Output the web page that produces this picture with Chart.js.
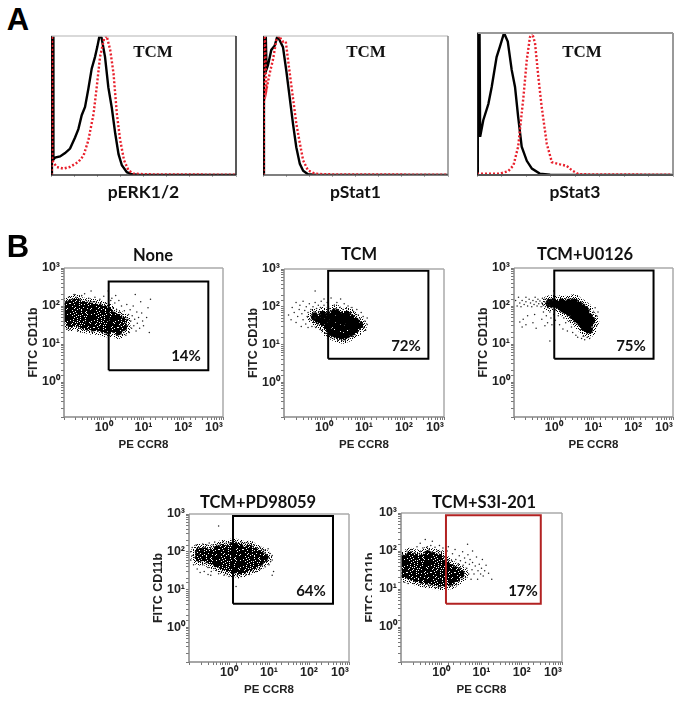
<!DOCTYPE html>
<html>
<head>
<meta charset="utf-8">
<style>
html, body { margin: 0; padding: 0; background: #fff; width: 681px; height: 703px; overflow: hidden; }
canvas { position: absolute; }
.txt { position: absolute; transform: translate(-50%, -50%); white-space: nowrap; color: #111; }
.big { font: bold 31px "Liberation Sans"; color: #000; }
.head { font: bold 16.5px Lato; }
.pct { font: bold 15px Lato; }
.tcm { font: bold 17px "Liberation Serif"; }
#mask { position: absolute; left: 372px; top: 545px; width: 4px; height: 85px; background: #fff; }
</style>
</head>
<body>
<script src="https://cdn.jsdelivr.net/npm/chart.js@4"></script>
<script>
// histograms, x = % of channel range, y = % of peak
let erkBlack = [[0.4,0],[0.5,100],[1.1,100],[1.3,11],[2.2,12.5],[4.9,13.4],[7.6,15.8],[10.3,19],[13,27],[14.8,33],[16.6,43],[18.4,49],[20.2,62],[22,76.5],[23.8,85],[25,92],[26.2,100],[27.3,99],[29.2,85],[31,63],[32.9,48],[34.7,30],[36.5,15],[38.3,7],[41,2],[43.7,0.5],[48,0],[100,0]];
let erkRed = [[0.3,0],[0.4,100],[0.6,100],[0.7,10.5],[3,5.8],[6.6,4.6],[10.3,5.8],[14.8,9.4],[17.6,14],[20.2,25],[23,44],[24.7,63],[26.5,85],[28.7,98],[30.1,100],[32,90],[33.8,73],[35.6,44],[37.4,25],[39.5,10.5],[41.9,3.4],[44.6,1],[51.8,0.5],[100,0.2]];
let stat1Black = [[0.3,0],[0.5,100],[1.5,100],[1.9,76],[2.7,79],[4.5,90],[6.3,93],[7.8,100],[9,97],[10.8,92],[12.6,75],[14.4,56],[16.2,37],[18,20],[19.9,8],[21.7,3],[24.3,0.5],[29,0],[100,0]];
let stat1Red = [[0.3,0],[0.6,100],[1,100],[1.8,61],[3.6,73],[5.4,83],[7.2,97],[8.7,100],[10.5,96],[12.3,96],[14,78],[15.9,58.5],[18,37],[19.9,23],[21.7,10.5],[24.3,3.4],[28,1],[33.4,0.5],[100,0.2]];
let stat3Black = [[0.2,0],[0.4,100],[1.3,100],[1.6,27],[3.2,38.6],[5.8,50],[7.5,62],[10,83],[11.8,91],[13.8,100],[15.7,94],[17.7,74],[19.4,62],[21,41],[22.8,20],[25.4,10],[28,4.5],[32,1],[37.3,0.2],[100,0]];
let stat3Red = [[0,1],[11.8,1],[16,2.8],[18.6,6.8],[21,20],[23.7,55],[25.4,81],[27,97],[28.1,100],[29.6,93],[31.3,69],[33,48],[35.6,22],[38.2,9],[42.4,7.5],[45.8,6.4],[48.4,3.3],[51.8,0.5],[100,0.2]];

// gates
let noneGate = [[1.33,2.03],[427,2.03],[427,438],[1.33,438],[1.33,2.03]];
let tcmGate = [[1.27,4.2],[407,4.2],[407,901],[1.27,901],[1.27,4.2]];
let u0126Gate = [[1.03,4.09],[324,4.09],[324,865],[1.03,865],[1.03,4.09]];
let pdGate = [[1.26,4.17],[398,4.17],[398,886],[1.26,886],[1.26,4.17]];
let s3iGate = [[1.31,4.1],[297,4.1],[297,866],[1.31,866],[1.31,4.1]];

// dense part of each cloud
let noneCore = [[0.11,45],[0.11,70],[0.11,100],[0.15,35],[0.15,55],[0.15,80],[0.15,115],[0.2,38],[0.2,60],[0.2,90],[0.2,125],[0.28,32],[0.28,50],[0.28,75],[0.28,105],[0.4,30],[0.4,48],[0.4,70],[0.4,100],[0.55,28],[0.55,45],[0.55,65],[0.55,95],[0.75,28],[0.75,42],[0.75,62],[0.75,88],[1,25],[1,38],[1,55],[1,80],[1.3,24],[1.3,35],[1.3,50],[1.3,72],[1.7,26],[1.7,38],[1.7,55],[2.3,22],[2.3,34],[2.3,48],[3,28],[3,40]];
let tcmCore = [[1.2,30],[1.2,50],[1.5,22],[1.5,36],[1.5,58],[1.9,20],[1.9,32],[1.9,48],[1.9,70],[2.4,18],[2.4,28],[2.4,42],[2.4,60],[3,17],[3,26],[3,38],[3,54],[3.8,19],[3.8,30],[3.8,44],[3.8,60],[4.8,22],[4.8,34],[4.8,48],[6,26],[6,40],[0.95,40],[0.95,60],[0.75,45],[0.6,55],[7.5,32]];
let u0126Core = [[1.3,110],[1.6,95],[1.6,120],[2,80],[2,105],[2.5,70],[2.5,95],[2.5,120],[3.2,55],[3.2,75],[3.2,100],[3.2,125],[4,45],[4,62],[4,82],[4,105],[5,36],[5,50],[5,68],[5,90],[6.2,28],[6.2,40],[6.2,55],[6.2,75],[7.5,24],[7.5,36],[7.5,50],[8.8,40],[1,120],[0.8,118]];
let pdCore = [[0.18,70],[0.18,100],[0.25,70],[0.25,100],[0.35,60],[0.35,90],[0.5,50],[0.5,75],[0.5,110],[0.7,42],[0.7,62],[0.7,90],[0.7,125],[0.95,38],[0.95,55],[0.95,80],[0.95,115],[1.3,34],[1.3,50],[1.3,72],[1.3,105],[1.3,140],[1.8,32],[1.8,46],[1.8,66],[1.8,95],[1.8,130],[2.4,34],[2.4,50],[2.4,72],[2.4,105],[3.2,40],[3.2,58],[3.2,85],[3.2,120],[4.3,45],[4.3,68],[4.3,100],[5.8,55],[5.8,85],[7.5,70]];
let s3iCore = [[0.12,25],[0.12,40],[0.12,60],[0.17,22],[0.17,35],[0.17,52],[0.17,75],[0.24,20],[0.24,30],[0.24,46],[0.24,68],[0.33,18],[0.33,28],[0.33,42],[0.33,62],[0.46,17],[0.46,26],[0.46,38],[0.46,56],[0.46,80],[0.64,16],[0.64,24],[0.64,35],[0.64,50],[0.64,72],[0.9,15],[0.9,22],[0.9,32],[0.9,46],[0.9,66],[1.25,15],[1.25,22],[1.25,32],[1.25,46],[1.7,16],[1.7,24],[1.7,35],[2.3,20],[2.3,30],[3,25]];

// loose events around the dense part
let noneDots = [[0.11,130],[0.13,170],[0.12,25],[0.16,150],[0.18,200],[0.14,24],[0.2,170],[0.22,22],[0.25,150],[0.28,190],[0.26,26],[0.33,210],[0.36,140],[0.38,23],[0.42,160],[0.48,250],[0.5,130],[0.5,21],[0.6,170],[0.65,130],[0.7,22],[0.8,150],[0.85,120],[0.9,20],[1,180],[1.1,120],[1.1,18],[1.3,250],[1.4,110],[1.4,17],[1.6,160],[1.7,90],[1.8,20],[1.9,120],[2.1,80],[2.2,17],[2.4,140],[2.5,70],[2.7,18],[2.8,100],[3,60],[3.2,20],[3.3,75],[3.6,50],[3.6,17],[3.8,110],[4,30],[4.2,60],[4.4,20],[4.6,80],[4.8,40],[5,26],[5.2,55],[5.5,100],[5.7,30],[6,45],[6.2,200],[6.5,22],[6.8,70],[7,35],[7.5,50],[8,26],[8.5,130],[9,65],[9.5,40],[10,30],[12,50],[14,20],[15,150],[13,90],[1.5,140],[2,190],[2.6,30],[3.4,35],[4.1,45],[2.9,48],[3.7,25]];
let tcmDots = [[0.13,60],[0.15,45],[0.16,95],[0.18,70],[0.2,130],[0.2,38],[0.22,55],[0.24,85],[0.25,110],[0.27,30],[0.28,65],[0.3,45],[0.3,140],[0.33,80],[0.35,35],[0.36,100],[0.38,55],[0.4,70],[0.4,28],[0.43,120],[0.45,45],[0.47,85],[0.5,60],[0.5,30],[0.53,100],[0.55,38],[0.56,75],[0.6,130],[0.6,50],[0.62,28],[0.65,90],[0.68,62],[0.7,35],[0.72,110],[0.75,75],[0.8,25],[0.82,95],[0.85,140],[0.9,24],[1,110],[1,160],[1.1,20],[1.2,130],[1.2,17],[1.4,90],[1.5,170],[1.5,15],[1.8,110],[1.8,14],[2.1,130],[2.2,13],[2.5,95],[2.6,160],[2.8,13],[3,85],[3.2,120],[3.4,13],[3.6,90],[4,105],[4.2,15],[4.5,70],[5,95],[5.2,16],[5.5,75],[6,18],[6.2,62],[6.6,85],[7,22],[7.2,60],[8,26],[8,48],[8.5,70],[9,36],[9.5,55],[10,28],[10.5,42],[11,24],[12,34],[12,50],[0.6,260]];
let u0126Dots = [[0.11,140],[0.12,100],[0.13,170],[0.14,120],[0.15,95],[0.16,140],[0.18,110],[0.2,130],[0.2,170],[0.22,100],[0.24,150],[0.26,120],[0.28,95],[0.3,140],[0.32,110],[0.34,170],[0.36,130],[0.38,100],[0.4,150],[0.42,115],[0.45,135],[0.48,95],[0.5,120],[0.52,160],[0.55,105],[0.58,130],[0.6,150],[0.62,95],[0.65,125],[0.68,110],[0.7,145],[0.72,90],[0.75,130],[0.78,105],[0.85,150],[0.9,90],[0.95,140],[0.14,38],[0.16,28],[0.17,45],[0.2,32],[0.22,55],[0.3,36],[0.33,60],[0.36,26],[0.5,45],[0.55,70],[0.6,30],[0.65,55],[0.7,36],[0.8,70],[0.85,48],[0.9,32],[1,60],[1.1,80],[1.1,42],[1.3,55],[1.4,32],[1.5,70],[1.7,25],[1.8,48],[2,36],[2.2,55],[2.2,22],[2.6,40],[2.8,28],[3,20],[3.4,35],[3.6,17],[4,15],[4.6,24],[5,14],[5.5,16],[6,13],[7,15],[8,14],[9,20],[9,60],[9.5,28],[10,36],[10,70],[10.5,48],[11,90],[12,55],[12,30],[13,70],[2,155],[3,150],[4,140],[5,125],[6,110],[7,95],[8,80],[1,250],[0.8,12]];
let pdDots = [[0.11,60],[0.11,100],[0.12,80],[0.12,130],[0.13,45],[0.14,70],[0.15,100],[0.15,150],[0.16,35],[0.17,55],[0.18,85],[0.18,125],[0.19,28],[0.2,65],[0.21,110],[0.22,45],[0.22,160],[0.24,30],[0.25,130],[0.26,50],[0.28,150],[0.3,38],[0.3,25],[0.32,170],[0.35,130],[0.36,30],[0.4,150],[0.42,36],[0.44,180],[0.48,32],[0.5,150],[0.55,26],[0.6,160],[0.65,30],[0.7,180],[0.75,24],[0.85,170],[0.9,26],[1,170],[1,22],[1.2,200],[1.3,22],[1.5,180],[1.6,23],[2,180],[2,22],[2.5,170],[2.6,24],[3,170],[3.2,25],[3.6,165],[4,30],[4.3,150],[4.8,30],[5,130],[5.2,38],[6,130],[6,35],[6.6,115],[6.8,42],[7.2,50],[7.5,110],[8,95],[8,40],[8.5,55],[9,80],[9,62],[9.5,120],[10,70],[10,45],[10.5,90],[11,55],[12,80],[12,60],[13,30],[12,24],[0.55,480],[1.5,12],[0.35,24]];
let s3iDots = [[0.11,80],[0.12,15],[0.14,100],[0.15,14],[0.18,110],[0.2,14],[0.22,90],[0.25,130],[0.28,13],[0.3,95],[0.35,120],[0.38,12],[0.4,90],[0.45,130],[0.5,110],[0.5,12],[0.55,140],[0.6,95],[0.7,11],[0.7,125],[0.8,100],[0.85,11],[0.9,140],[1,95],[1,11],[1.1,120],[1.2,70],[1.3,10],[1.4,100],[1.5,60],[1.5,130],[1.6,12],[1.8,55],[1.9,85],[1.9,12],[2,42],[2.2,110],[2.3,60],[2.4,13],[2.6,45],[2.8,75],[2.8,16],[3,35],[3,55],[3.3,18],[3.4,95],[3.5,42],[3.7,28],[3.8,65],[4,20],[4,50],[4.3,35],[4.6,80],[4.8,25],[5,45],[5.2,60],[5.5,18],[5.8,32],[6,100],[6,50],[6.5,25],[7,40],[7.5,70],[8,18],[8.2,30],[8.8,45],[9.5,25],[10,35],[10.5,60],[11,22],[12,30],[13,42],[15,26],[18,18],[4.5,150],[0.4,200],[0.3,160],[0.6,180]];

let logTicks = ["10\u2070", "10\u00b9", "10\u00b2", "10\u00b3"];
let tickColor = "#777";

// stipple fills so the clouds read as dots, not discs
let denseRows = [
"##.#####.###.#####.#####","#####.#######.##.#######",".###.####.#######.###.##","#######.###.##.#####.###",
"##.########.######.#####","#####.##.#######.#####.#","###.#######.###.####.###",".#####.#.#######.#######",
"####.#######.####.###.##","##.#####.#.#######.#####","######.#######.#.####.##","#.##.#####.########.####",
"#####.#.#######.##.#####","###.######.##.#######.##",".######.#######.#.######","###.#####.###.#######.##",
"#####.#.########.##.####","##.#######.#.#######.###","#.####.#######.###.#####","#####.###.#.########.###",
"###.#######.###.##.#####",".#####.##.#######.#####.","####.######.##.#####.###","##.####.#.########.#####"];
let sparseRows = [
".#...#..#...#.#...#...#.","...#...#..#.....#..#....","#....#....#.#.#....#..#.","..#.....#.....#.#.....#.",
".#..#.#...#.#.....#.#...","....#...#....#.#.#....#.","#.#...#...#.....#...#...","...#....#...#.#...#...#.",
".#...#.#..#.....#...#..#","#..#.....#...#.#..#.....","...#.#.#...#.....#...#.#",".#.....#.#...#.#...#....",
"#..#.#.....#....#.#...#.","....#..#.#...#.#.....#..",".#.#.....#.#.....#.#...#","#....#.#....#.#.#.....#.",
"..#.#...#.#.....#.#.#...",".#....#....#.#.#.....#.#","...#.#..#.#.....#.#.#...","#.#....#....#.#.....#..#",
"..#.#.#..#.#...#.#.#....",".#....#.....#.#.....#.#.","#..#.#..#.#.....#.#...#.","..#....#...#.#.#....#..."];

function stipple(rows) {
    let t = document.createElement("canvas");
    t.width = 24;
    t.height = 24;
    let g = t.getContext("2d");
    g.fillStyle = "#000";
    for (let r = 0; r < 24; r++) {
        for (let k = 0; k < 24; k++) {
            if (rows[r][k] == "#") g.fillRect(k, r, 1, 1);
        }
    }
    return g.createPattern(t, "repeat");
}
let denseFill = stipple(denseRows);
let sparseFill = stipple(sparseRows);

function place(plot, padL, padT, padR, padB, cfg) {
    let c = document.createElement("canvas");
    c.width = plot[2] + padL + padR;
    c.height = plot[3] + padT + padB;
    c.style.left = (plot[0] - padL) + "px";
    c.style.top = (plot[1] - padT) + "px";
    document.body.appendChild(c);
    cfg.options.responsive = false;
    cfg.options.animation = false;
    cfg.options.layout = { padding: { top: padT, right: padR, left: 0, bottom: 0 } };
    cfg.options.plugins.legend = { display: false };
    cfg.options.plugins.tooltip = { enabled: false };
    return new Chart(c.getContext("2d"), cfg);
}

let frame = {
    id: "frame",
    afterDatasetsDraw(chart, args, o) {
        let a = chart.chartArea, g = chart.ctx;
        g.save();
        g.lineWidth = o.width;
        let side = (col, x1, y1, x2, y2) => {
            g.strokeStyle = col;
            g.beginPath(); g.moveTo(x1, y1); g.lineTo(x2, y2); g.stroke();
        };
        side(o.top, a.left, a.top, a.right, a.top);
        side(o.right, a.right, a.top, a.right, a.bottom);
        side(o.bottom, a.left, a.bottom, a.right, a.bottom);
        side(o.left, a.left, a.top, a.left, a.bottom);
        g.restore();
    }
};
Chart.register(frame);

function histogram(plot, black, red, label, colors) {
    place(plot, 0, 2, 2, 34, {
        type: "scatter",
        data: { datasets: [
            { data: red, showLine: true, pointRadius: 0, borderColor: "#e8202c", borderWidth: 2.4, borderDash: [2, 2] },
            { data: black, showLine: true, pointRadius: 0, borderColor: "#000", borderWidth: 2.4 }
        ] },
        options: {
            plugins: { frame: colors },
            scales: {
                x: {
                    type: "linear", min: 0, max: 100,
                    afterFit(s) { s.height = 34; },
                    border: { display: false },
                    grid: { drawOnChartArea: false, tickLength: 2, tickColor: "#aaa" },
                    ticks: { stepSize: 12.5, display: false },
                    title: { display: true, text: label, color: "#111", font: { family: "Lato", weight: "bold", size: 17.5 }, padding: { top: 0, bottom: 6 } }
                },
                y: { type: "linear", min: 0, max: 100, display: false }
            }
        }
    });
}

function dotPlot(plot, core, dots, gate, gateColor, solidRadius) {
    place(plot, 42, 10, 14, 40, {
        type: "scatter",
        data: { datasets: [
            { data: gate, showLine: true, pointRadius: 0, borderColor: gateColor, borderWidth: 2, clip: false },
            { data: dots, pointRadius: 0.75, pointBorderWidth: 0, pointBackgroundColor: "#222" },
            { data: core, pointRadius: solidRadius, pointBorderWidth: 0, pointBackgroundColor: "#000" },
            { data: core, pointRadius: 4.4, pointBorderWidth: 0, pointBackgroundColor: denseFill },
            { data: core, pointRadius: 8, pointBorderWidth: 0, pointBackgroundColor: sparseFill }
        ] },
        options: {
            plugins: { frame: { top: "#aaa", right: "#aaa", bottom: "#888", left: "#888", width: 1.5 } },
            scales: {
                x: {
                    type: "logarithmic", min: 0.1, max: 1000,
                    afterFit(s) { s.height = 40; },
                    border: { display: false },
                    grid: { drawOnChartArea: false, tickLength: 3, tickColor: tickColor },
                    ticks: {
                        autoSkip: false, maxRotation: 0, align: "inner", padding: 0, color: "#222",
                        font: { family: "Liberation Sans", weight: "bold", size: 12.5 },
                        callback(v) { let n = Math.log10(v); return Math.abs(n - Math.round(n)) < 1e-6 && n >= 0 ? logTicks[Math.round(n)] : ""; }
                    },
                    title: { display: true, text: "PE CCR8", color: "#222", font: { family: "Liberation Sans", weight: "bold", size: 11.5 }, padding: { top: 0, bottom: 5 } }
                },
                y: {
                    type: "logarithmic", min: 0.12, max: 1000,
                    afterFit(s) { s.width = 42; },
                    border: { display: false },
                    grid: { drawOnChartArea: false, tickLength: 3, tickColor: tickColor },
                    ticks: {
                        autoSkip: false, padding: 1, color: "#222",
                        font: { family: "Liberation Sans", weight: "bold", size: 12.5 },
                        callback(v) { let n = Math.log10(v); return Math.abs(n - Math.round(n)) < 1e-6 && n >= 0 ? logTicks[Math.round(n)] : ""; }
                    },
                    title: { display: true, text: "FITC CD11b", color: "#222", font: { family: "Liberation Sans", weight: "bold", size: 12.5 }, padding: { top: 4, bottom: 0 } }
                }
            }
        }
    });
}

histogram([51, 36, 185, 139], erkBlack, erkRed, "pERK1/2", { top: "#ccc", right: "#222", bottom: "#333", left: "#000", width: 1.5 });
histogram([263, 36, 185, 139], stat1Black, stat1Red, "pStat1", { top: "#ccc", right: "#888", bottom: "#555", left: "#000", width: 1.5 });
histogram([477, 33, 196, 142], stat3Black, stat3Red, "pStat3", { top: "#999", right: "#999", bottom: "#555", left: "#222", width: 2 });

dotPlot([64, 268, 159, 149], noneCore, noneDots, noneGate, "#000", 0);
dotPlot([284, 269, 160, 148], tcmCore, tcmDots, tcmGate, "#000", 3);
dotPlot([514, 268, 159, 149], u0126Core, u0126Dots, u0126Gate, "#000", 3.6);
dotPlot([189, 514, 160, 148], pdCore, pdDots, pdGate, "#000", 0);
dotPlot([401, 513, 161, 149], s3iCore, s3iDots, s3iGate, "#b22222", 0);

let labels = [
    ["A", 18, 20, "big"], ["B", 18, 247, "big"],
    ["TCM", 153, 52, "tcm"], ["TCM", 366, 52, "tcm"], ["TCM", 582, 52, "tcm"],
    ["None", 153, 255, "head"], ["TCM", 359, 254, "head"], ["TCM+U0126", 585, 254, "head"],
    ["TCM+PD98059", 258, 502, "head"], ["TCM+S3I-201", 484, 502, "head"],
    ["14%", 186, 355, "pct"], ["72%", 406, 345, "pct"], ["75%", 631, 345, "pct"],
    ["64%", 311, 590, "pct"], ["17%", 523, 590, "pct"]
];
for (let i = 0; i < labels.length; i++) {
    let d = document.createElement("div");
    d.className = "txt " + labels[i][3];
    d.textContent = labels[i][0];
    d.style.left = labels[i][1] + "px";
    d.style.top = labels[i][2] + "px";
    document.body.appendChild(d);
}
let mask = document.createElement("div");
mask.id = "mask";
document.body.appendChild(mask);
</script>
</body>
</html>
